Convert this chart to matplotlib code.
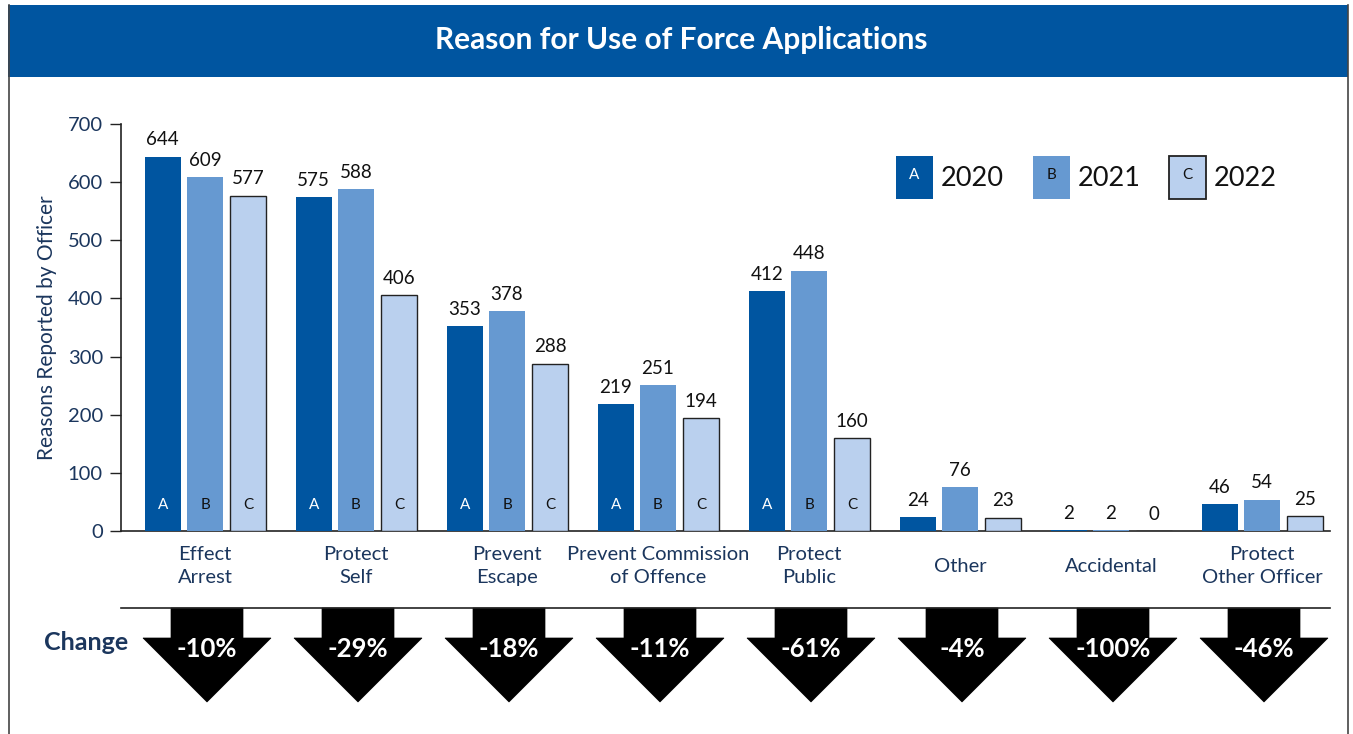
import matplotlib
matplotlib.use("Agg")
import matplotlib.pyplot as plt
from matplotlib.patches import Rectangle, Polygon
import numpy as np

plt.rcParams['font.family'] = ['Lato', 'DejaVu Sans']

categories = ["Effect\nArrest", "Protect\nSelf", "Prevent\nEscape", "Prevent Commission\nof Offence",
              "Protect\nPublic", "Other", "Accidental", "Protect\nOther Officer"]
years = ["2020", "2021", "2022"]
letters = ["A", "B", "C"]
v2020 = [644, 575, 353, 219, 412, 24, 2, 46]
v2021 = [609, 588, 378, 251, 448, 76, 2, 54]
v2022 = [577, 406, 288, 194, 160, 23, 0, 25]
yticks = [0, 100, 200, 300, 400, 500, 600, 700]

series = [v2020, v2021, v2022]
colors = ["#0055A0", "#6699D1", "#BAD0EE"]
edges = [None, None, "#222222"]
letter_colors = ["white", "#111111", "#111111"]
navy = "#1B365D"

W, H = 1353, 734
fig = plt.figure(figsize=(W / 100, H / 100), dpi=100)

# overlay in pixel coordinates for the frame, title bar, legend and arrows
ov = fig.add_axes([0, 0, 1, 1], zorder=0)
ov.set_xlim(0, W)
ov.set_ylim(H, 0)
ov.axis("off")

ov.add_patch(Rectangle((8, 5), 1340, 72, color="#0055A0", lw=0))
ov.plot([8.5, 8.5], [5, H], color="#444444", lw=1.2)
ov.plot([1348, 1348], [5, H], color="#444444", lw=1.2)
ov.text(681, 40, "Reason for Use of Force Applications", color="white", fontsize=21.5,
        fontweight="bold", ha="center", va="center")

# main bar chart
left, right, top, bottom = 121, 1330, 124, 531
ax = fig.add_axes([left / W, (H - bottom) / H, (right - left) / W, (bottom - top) / H], zorder=1)
ax.patch.set_alpha(0)
x = np.arange(len(categories))
offsets = [-0.28, 0.0, 0.285]
width = 0.238
for s, vals in enumerate(series):
    ax.bar(x + offsets[s], vals, width, color=colors[s],
           edgecolor=edges[s] if edges[s] else colors[s],
           linewidth=1.0 if edges[s] else 0, zorder=3)
    for i, v in enumerate(vals):
        ax.text(x[i] + offsets[s], v + 14, str(v), ha="center", va="bottom",
                fontsize=13.5, color="#111111")
        if v > 100:
            ax.text(x[i] + offsets[s], 44, letters[s], ha="center", va="center",
                    fontsize=11, color=letter_colors[s], zorder=4)

ax.set_xlim((left - 205) / 151, (right - 205) / 151)
ax.set_ylim(0, 700)
ax.set_yticks(yticks)
ax.set_yticklabels([str(t) for t in yticks], fontsize=14.5, color=navy)
ax.tick_params(axis="y", length=8, width=1, color="#222222", pad=5)
ax.set_xticks(x)
ax.set_xticklabels([])
ax.tick_params(axis="x", length=0)
for sp in ["top", "right"]:
    ax.spines[sp].set_visible(False)
for sp in ["left", "bottom"]:
    ax.spines[sp].set_color("#222222")
    ax.spines[sp].set_linewidth(1.2)
ax.set_ylabel("Reasons Reported by Officer", fontsize=15, color=navy, labelpad=8)

# legend
leg_x = [896, 1033, 1169]
for s in range(3):
    ov.add_patch(Rectangle((leg_x[s], 156), 37, 43, facecolor=colors[s],
                           edgecolor=edges[s] if edges[s] else colors[s],
                           lw=1.3 if edges[s] else 0))
    ov.text(leg_x[s] + 18.5, 175, letters[s], ha="center", va="center", fontsize=11,
            color=letter_colors[s])
    ov.text(leg_x[s] + 45, 178, years[s], ha="left", va="center", fontsize=19.5, color="#111111")

# category labels and change arrows
fig.canvas.draw()
inv = ov.transData.inverted()
ov.plot([left, right], [608, 608], color="#222222", lw=1.2)
ov.text(86, 642, "Change", ha="center", va="center", fontsize=18, fontweight="bold", color=navy)
for i in range(len(categories)):
    cx = inv.transform(ax.transData.transform((x[i], 0)))[0]
    ov.text(cx, 566, categories[i], ha="center", va="center", fontsize=14.5,
            color=navy, linespacing=1.4, multialignment="center")
    ax_ = cx + 2
    pts = [(ax_ - 36, 608), (ax_ + 36, 608), (ax_ + 36, 638), (ax_ + 64, 638),
           (ax_, 702), (ax_ - 64, 638), (ax_ - 36, 638)]
    ov.add_patch(Polygon(pts, closed=True, facecolor="black", edgecolor="black", lw=0.5))
    pct = round((v2022[i] - v2020[i]) / v2020[i] * 100)
    ov.text(ax_, 649, f"{pct}%", ha="center", va="center", fontsize=18.5,
            fontweight="bold", color="white")

fig.savefig("out.png", dpi=100)
